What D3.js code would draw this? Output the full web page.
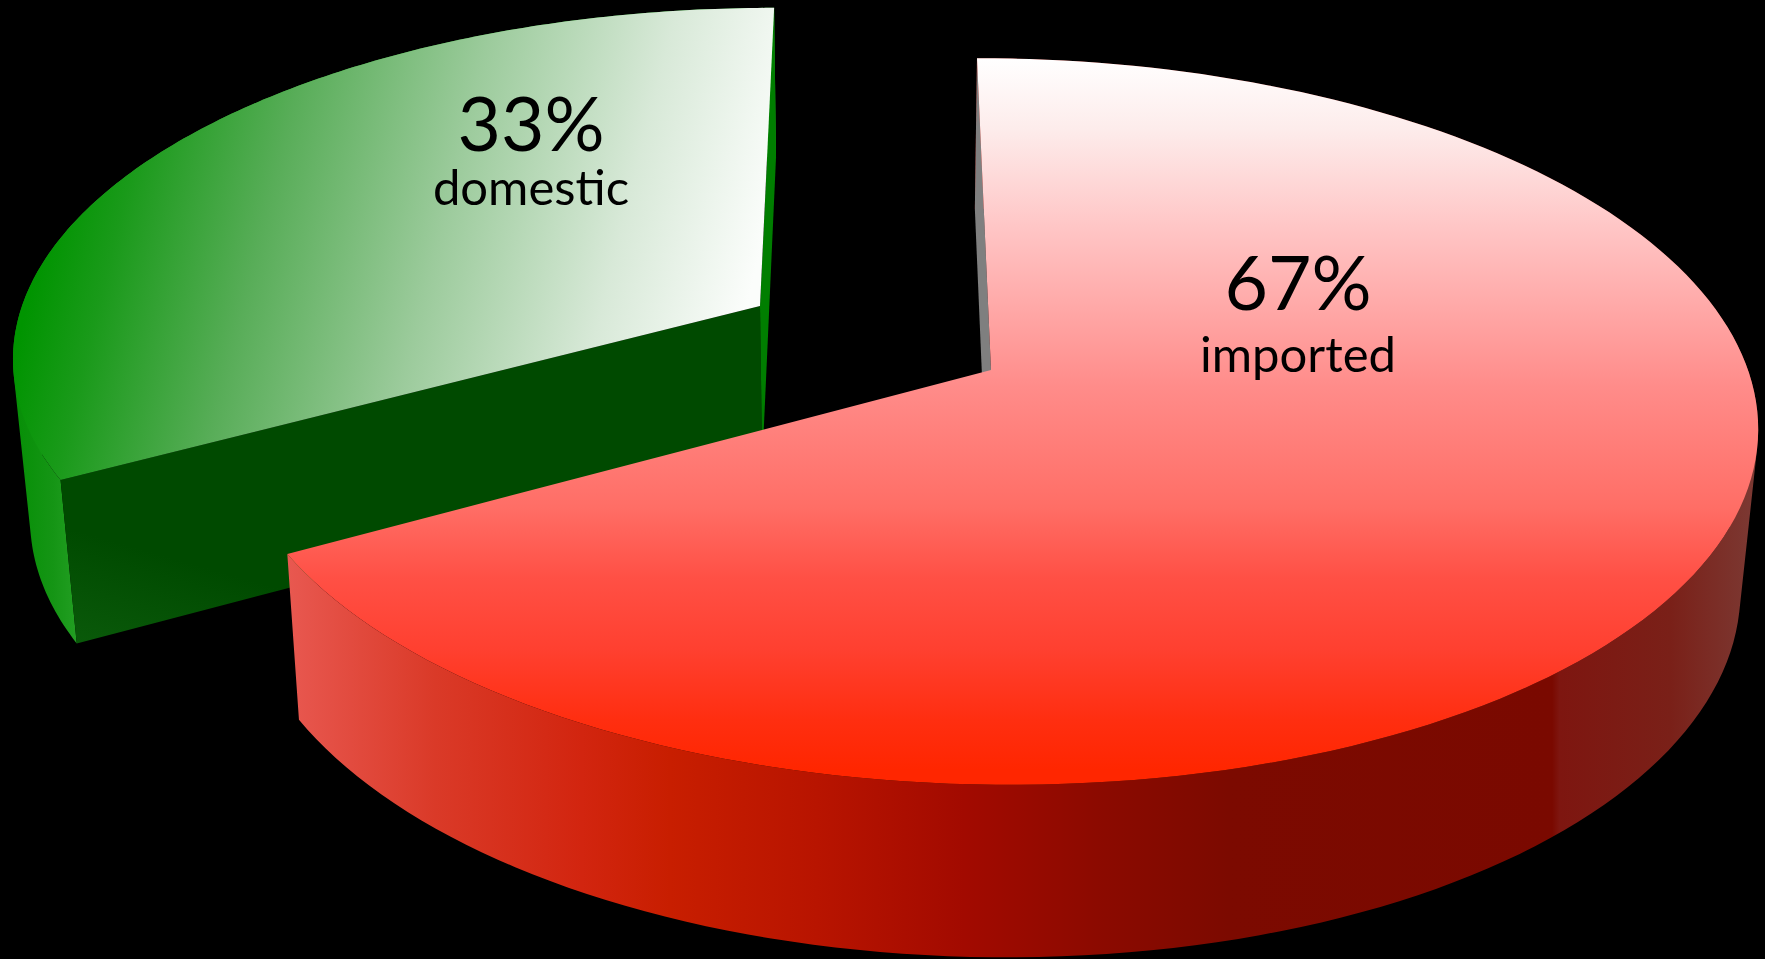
<!DOCTYPE html>
<html>
<head>
<meta charset="utf-8">
<script src="https://cdn.jsdelivr.net/npm/d3@7"></script>
<style>
html, body { margin: 0; padding: 0; background: #000; overflow: hidden; }
svg { display: block; }
text { font-family: Lato, "Open Sans", sans-serif; fill: #000; text-anchor: middle; font-variant-ligatures: common-ligatures discretionary-ligatures; }
</style>
</head>
<body>
<svg id="chart" width="1765" height="959"></svg>
<script>
// Source shares, clockwise from twelve o'clock
const categories = ["imported", "domestic"];
const shares = [67, 33];
const shareLabels = ["67%", "33%"];

const svg = d3.select("#chart");
const defs = svg.append("defs");

// Perspective set-up of each exploded wedge: disc centre, radii, foreshortening, shear
const views = {
  imported: { ax: 991, ay: 370, rx: 757, ry: 356, k: 0.1417, sx: 16 },
  domestic: { ax: 760, ay: 306, rx: 738, ry: 338, k: 0.1336, sx: -16 }
};
const labelAt = {
  imported: { x: 1298, big: 310, small: 372 },
  domestic: { x: 531, big: 151, small: 205 }
};

// Maps a point of the flat disc (angle, radius 0..1) onto the tilted top face
const project = (v, a, r = 1) => {
  const X = r * Math.sin(a), Y = -r * Math.cos(a), w = 1 - v.k * Y;
  return [v.ax + (v.rx * X + v.sx * Y) / w, v.ay + v.ry * Y / w];
};
// Drops a top-face point to the lower face of the slab
const drop = ([x, y]) => [870 + (x - 870) * 0.98, y + 149 + 0.03 * y];

const line = d3.line();
const closed = pts => line(pts) + "Z";

function gradient(id, vec, stops) {
  const g = defs.append("linearGradient").attr("id", id)
    .attr("gradientUnits", "userSpaceOnUse")
    .attr("x1", vec[0]).attr("y1", vec[1]).attr("x2", vec[2]).attr("y2", vec[3]);
  stops.forEach(([o, c]) => g.append("stop").attr("offset", o).attr("stop-color", c));
}

gradient("redTop", [990, 58, 990, 770], [
  [0, "#ffffff"], [0.1, "#fdeceb"], [0.24, "#ffc5c5"], [0.46, "#ff8c8a"],
  [0.63, "#ff6e66"], [0.73, "#ff5045"], [0.83, "#ff4030"], [0.93, "#ff2e10"], [1, "#ff2600"]
]);
gradient("redSide", [288, 0, 1758, 0], [
  [0, "#e85850"], [0.1, "#da3a28"], [0.2, "#d2250f"], [0.26, "#c81e00"], [0.36, "#b81400"],
  [0.46, "#a20a00"], [0.55, "#8c0a00"], [0.64, "#7c0a00"], [0.86, "#7a0900"],
  [0.865, "#7e1610"], [0.94, "#7a2018"], [1, "#7c3a34"]
]);
gradient("greenTop", [13, 360, 692, 528], [
  [0, "#009400"], [0.1, "#1a9a1a"], [0.3, "#58ad58"], [0.55, "#9ccb9c"],
  [0.8, "#d8e9d8"], [1, "#fbfdfb"]
]);
gradient("greenSide", [13, 0, 80, 0], [[0, "#058f05"], [0.6, "#159515"], [1, "#24a024"]]);
gradient("greenInner", [80, 645, 110, 540], [[0, "#0a5a0a"], [1, "#004a00"]]);

const fills = {
  imported: { top: "url(#redTop)", side: "url(#redSide)", cut: "#7f7f7f" },
  domestic: { top: "url(#greenTop)", side: "url(#greenSide)", cut: "#007e00", inner: "url(#greenInner)" }
};

// Wedge angles come straight from the shares
const slices = d3.pie().sort(null).value(d => d.value)
  (categories.map((name, i) => ({ name, value: shares[i], label: shareLabels[i] })));

// Far wedge first so the nearer one overlaps it
const order = slices.slice().sort((a, b) => views[a.data.name].ay - views[b.data.name].ay);

order.forEach(s => {
  const v = views[s.data.name], f = fills[s.data.name];
  const g = svg.append("g").attr("class", "wedge " + s.data.name);
  const steps = d3.range(0, 161).map(i => s.startAngle + (s.endAngle - s.startAngle) * i / 160);
  const rim = steps.map(a => project(v, a));
  const rimLow = rim.map(drop);
  const apex = project(v, 0, 0);
  const apexLow = drop(apex);

  // The arc end nearest twelve o'clock carries the grazing cut, the other the cut facing the viewer
  const atStart = Math.abs(Math.sin(s.startAngle)) < Math.abs(Math.sin(s.endAngle));
  const topIdx = atStart ? 0 : rim.length - 1;
  const sideIdx = atStart ? rim.length - 1 : 0;

  // Outer wall as uniformly wound quads, so the fold at the silhouette stays filled
  const quads = d3.range(rim.length - 1).map(i => {
    const q = [rim[i], rim[i + 1], rimLow[i + 1], rimLow[i]];
    return closed(d3.polygonArea(q) < 0 ? q.reverse() : q);
  }).join("");
  g.append("path").attr("d", quads).attr("fill", f.side);

  if (f.inner) {
    g.append("path")
      .attr("d", closed([apex, rim[sideIdx], rimLow[sideIdx], apexLow]))
      .attr("fill", f.inner);
  }
  g.append("path")
    .attr("d", closed([apex, rim[topIdx], rimLow[topIdx], apexLow]))
    .attr("fill", f.cut);

  // Top face
  g.append("path").attr("d", closed([apex, ...rim])).attr("fill", f.top);
});

// Value and category labels
slices.forEach(s => {
  const p = labelAt[s.data.name];
  svg.append("text").attr("x", p.x).attr("y", p.big).attr("font-size", 75).text(s.data.label);
  svg.append("text").attr("x", p.x).attr("y", p.small).attr("font-size", 49).text(s.data.name);
});
</script>
</body>
</html>
